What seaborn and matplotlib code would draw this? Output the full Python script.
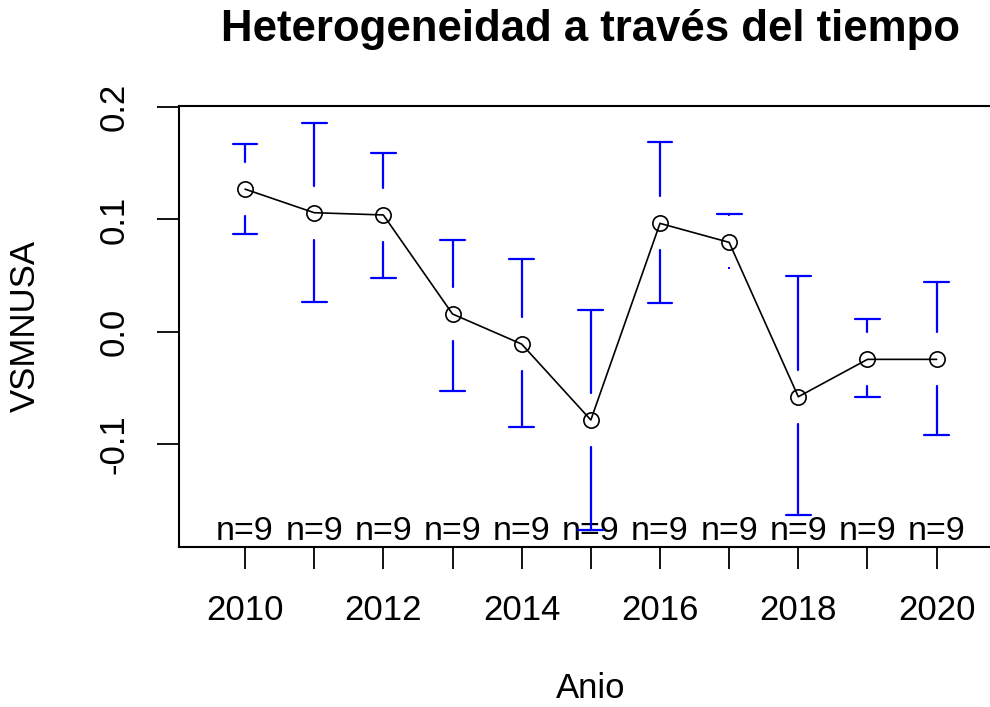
import matplotlib
matplotlib.use("Agg")
import matplotlib.pyplot as plt
import seaborn as sns
import pandas as pd

# Mean of VSMNUSA per year with its confidence interval
anios = [2010, 2011, 2012, 2013, 2014, 2015, 2016, 2017, 2018, 2019, 2020]
medias = [0.127, 0.106, 0.104, 0.0158, -0.011, -0.0786, 0.0965, 0.0796, -0.0579, -0.0246, -0.0246]
ic_sup = [0.167, 0.1856, 0.159, 0.0817, 0.0645, 0.0193, 0.1686, 0.1045, 0.0496, 0.0116, 0.044]
ic_inf = [0.087, 0.0267, 0.0475, -0.0525, -0.0846, -0.1766, 0.0253, 0.057, -0.163, -0.0579, -0.092]
n_obs = [9, 9, 9, 9, 9, 9, 9, 9, 9, 9, 9]
etiquetas_x = ["2010", "2012", "2014", "2016", "2018", "2020"]
ticks_y = [-0.1, 0.0, 0.1, 0.2]

df = pd.DataFrame({"Anio": anios, "VSMNUSA": medias, "sup": ic_sup, "inf": ic_inf, "n": n_obs})

sns.set_style("ticks")
plt.rcParams["font.family"] = ["Liberation Sans", "DejaVu Sans"]
plt.rcParams["text.color"] = "black"
plt.rcParams["axes.labelcolor"] = "black"

fig = plt.figure(figsize=(9.9, 7.07), dpi=100)
ax = fig.add_axes([0.1808, 0.2263, 0.8320, 0.6242])

# gap left around each mean point, and half width of the caps
hueco = 0.024
medio_cap = 0.18

for x, m, s, i in zip(df["Anio"], df["VSMNUSA"], df["sup"], df["inf"]):
    for lim, signo in ((s, 1), (i, -1)):
        if abs(lim - m) > hueco:
            ax.plot([x, x], [m + signo * hueco, lim], color="#0000ff", lw=1.6, zorder=2)
            ax.plot([x - medio_cap, x + medio_cap], [lim, lim], color="#0000ff", lw=1.6, zorder=2)
        else:
            ax.plot([x], [lim], marker="s", ms=1.6, color="#0000ff", mew=0, zorder=2)

sns.lineplot(data=df, x="Anio", y="VSMNUSA", ax=ax, color="black", lw=1.2,
             marker="o", markersize=11, markerfacecolor="none",
             markeredgecolor="black", markeredgewidth=1.2, zorder=3)

for x, n in zip(df["Anio"], df["n"]):
    ax.annotate(f"n={n}", xy=(x, 0), xycoords=("data", "axes fraction"),
                xytext=(0, 5), textcoords="offset points",
                ha="center", va="baseline", fontsize=24.5, color="black", zorder=1)

ax.set_xlim(2009.045, 2020.955)
ax.set_ylim(-0.1917, 0.2013)
ax.set_xticks(anios)
ax.set_xticklabels([str(a) if str(a) in etiquetas_x else "" for a in anios])
ax.set_yticks(ticks_y)
ax.set_yticklabels(["-0.1", "0.0", "0.1", "0.2"], rotation=90, va="center")

ax.tick_params(axis="both", direction="out", length=16, width=1.3, colors="black",
               labelsize=25)
ax.tick_params(axis="x", pad=18)
ax.tick_params(axis="y", pad=19)
for sp in ax.spines.values():
    sp.set_visible(True)
    sp.set_linewidth(1.5)
    sp.set_color("black")

ax.set_xlabel("Anio", fontsize=25, labelpad=32)
ax.set_ylabel("VSMNUSA", fontsize=25, labelpad=40)
fig.text(0.5965, 0.958, "Heterogeneidad a través del tiempo", ha="center", va="center",
         fontsize=31.5, fontweight="bold", color="black")

fig.savefig("out.png", dpi=100)
